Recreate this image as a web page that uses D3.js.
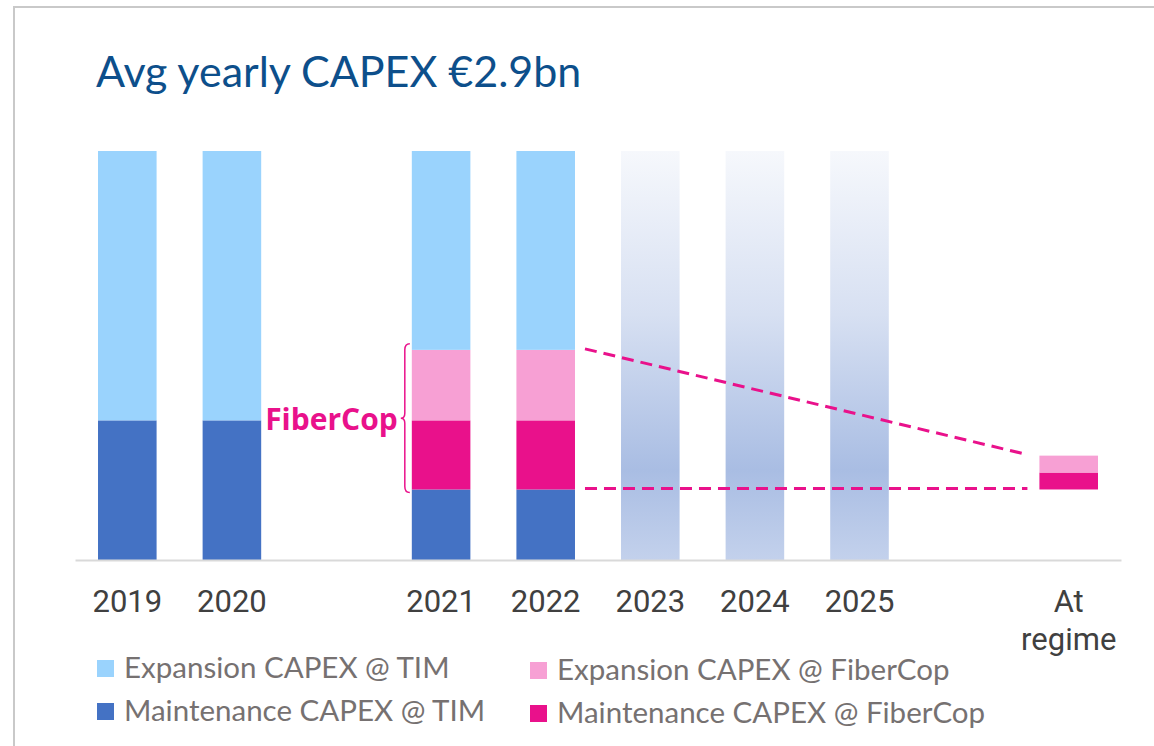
<!DOCTYPE html>
<html>
<head>
<meta charset="utf-8">
<script src="https://cdn.jsdelivr.net/npm/d3@7"></script>
<style>
  body { margin: 0; background: #fff; }
  svg { display: block; }
</style>
</head>
<body>
<div id="svgcontainer"></div>
<script>
// categories on the x axis (gap slots are empty positions)
let slots = ["2019", "2020", "gap1", "2021", "2022", "2023", "2024", "2025", "gap2", "At regime"];
let years = ["2019", "2020", "2021", "2022", "2023", "2024", "2025", "At regime"];
// € bn
let maintenanceTIM = [0.99, 0.99, 0.50, 0.50, 0, 0, 0, 0.50];
let maintenanceFiberCop = [0, 0, 0.49, 0.49, 0, 0, 0, 0.12];
let expansionFiberCop = [0, 0, 0.50, 0.50, 0, 0, 0, 0.12];
let expansionTIM = [1.91, 1.91, 1.41, 1.41, 0, 0, 0, 0];
let plannedTotal = [0, 0, 0, 0, 2.9, 2.9, 2.9, 0];
let seriesNames = ["Expansion CAPEX @ TIM", "Maintenance CAPEX @ TIM", "Expansion CAPEX @ FiberCop", "Maintenance CAPEX @ FiberCop"];
let titleText = "Avg yearly CAPEX €2.9bn";

let width = 1154;
let height = 746;
let colors = {
    expTIM: "#9ad3fd",
    mntTIM: "#4472c4",
    expFC: "#f7a0d4",
    mntFC: "#e9118b"
};

let rows = years.map((d, i) => ({
    year: d,
    mntTIM: maintenanceTIM[i],
    mntFC: maintenanceFiberCop[i],
    expFC: expansionFiberCop[i],
    expTIM: expansionTIM[i],
    planned: plannedTotal[i]
}));

let svg = d3.select("#svgcontainer")
    .append("svg")
    .attr("width", width)
    .attr("height", height);

let defs = svg.append("defs");
let grad = defs.append("linearGradient")
    .attr("id", "plannedGrad")
    .attr("x1", 0).attr("y1", 0).attr("x2", 0).attr("y2", 1);
grad.append("stop").attr("offset", "0%").attr("stop-color", "#f6f8fc");
grad.append("stop").attr("offset", "40%").attr("stop-color", "#d7e0f2");
grad.append("stop").attr("offset", "78%").attr("stop-color", "#a9bde3");
grad.append("stop").attr("offset", "100%").attr("stop-color", "#c3d1ec");

// frame
svg.append("path")
    .attr("d", "M14," + height + "V7H" + width)
    .attr("fill", "none")
    .attr("stroke", "#c9c9c9")
    .attr("stroke-width", 2);

svg.append("text")
    .attr("x", 96)
    .attr("y", 87)
    .style("font-family", "Lato, 'Open Sans', sans-serif")
    .style("font-size", "43px")
    .style("fill", "#0d4f8b")
    .text(titleText);

var x = d3.scaleBand()
    .domain(slots)
    .range([75, 1121])
    .paddingInner(0.44)
    .paddingOuter(0.22);

var y = d3.scaleLinear()
    .domain([0, 2.9])
    .range([560, 151]);

let keys = ["mntTIM", "mntFC", "expFC", "expTIM"];
let stacked = d3.stack().keys(keys)(rows);

let bars = svg.append("g").attr("class", "bars");
stacked.forEach(layer => {
    bars.selectAll(".bar-" + layer.key)
        .data(layer.filter(d => d[1] > d[0] && !(layer.key === "mntTIM" && d.data.year === "At regime")))
        .enter()
        .append("rect")
        .attr("x", d => x(d.data.year))
        .attr("width", x.bandwidth())
        .attr("y", d => y(d[1]))
        .attr("height", d => y(d[0]) - y(d[1]))
        .style("fill", colors[layer.key]);
});

bars.selectAll(".planned")
    .data(rows.filter(d => d.planned > 0))
    .enter()
    .append("rect")
    .attr("x", d => x(d.year))
    .attr("width", x.bandwidth())
    .attr("y", d => y(d.planned))
    .attr("height", d => y(0) - y(d.planned))
    .style("fill", "url(#plannedGrad)");

// x axis
let axis = svg.append("g")
    .attr("transform", "translate(0," + y(0) + ")")
    .call(d3.axisBottom(x).tickValues(years).tickSize(0).tickPadding(0));
axis.select(".domain").attr("stroke", "#d9d9d9").attr("stroke-width", 2);
axis.selectAll(".tick text").remove();
axis.selectAll(".tick").each(function (d) {
    let t = d3.select(this).append("text")
        .attr("text-anchor", "middle")
        .attr("fill", "#404040")
        .style("font-family", "Roboto, sans-serif")
        .style("font-size", "31px");
    let parts = d.split(" ");
    parts.forEach((p, i) => {
        t.append("tspan").attr("x", 0).attr("y", 52 + i * 38).text(p);
    });
});

// dashed guide lines from 2022 to At regime
let r22 = rows.find(d => d.year === "2022");
let rAR = rows.find(d => d.year === "At regime");
let xs = x("2022") + x.bandwidth() + 10;
let xe = x("At regime") - 12;
let guides = [
    [r22.mntTIM + r22.mntFC + r22.expFC, rAR.mntTIM + rAR.mntFC + rAR.expFC],
    [r22.mntTIM, rAR.mntTIM]
];
svg.selectAll(".guide")
    .data(guides)
    .enter()
    .append("line")
    .attr("x1", xs)
    .attr("x2", xe)
    .attr("y1", d => y(d[0]) - 1)
    .attr("y2", d => y(d[1]) - 1)
    .attr("stroke", colors.mntFC)
    .attr("stroke-width", 3)
    .attr("stroke-dasharray", "12,7");

// brace + FiberCop label on 2021
let r21 = rows.find(d => d.year === "2021");
let bTop = y(r21.mntTIM + r21.mntFC + r21.expFC) - 6;
let bBot = y(r21.mntTIM) + 3;
let bMid = (bTop + bBot) / 2;
let bx = x("2021") - 7;
svg.append("path")
    .attr("d", "M" + (bx + 5) + "," + bTop +
        "Q" + bx + "," + bTop + " " + bx + "," + (bTop + 6) +
        "V" + (bMid - 5) +
        "Q" + bx + "," + bMid + " " + (bx - 4) + "," + bMid +
        "Q" + bx + "," + bMid + " " + bx + "," + (bMid + 5) +
        "V" + (bBot - 6) +
        "Q" + bx + "," + bBot + " " + (bx + 5) + "," + bBot)
    .attr("fill", "none")
    .attr("stroke", colors.mntFC)
    .attr("stroke-width", 1.5);

svg.append("text")
    .attr("x", bx - 7)
    .attr("y", bMid + 12)
    .attr("text-anchor", "end")
    .style("font-family", "'Open Sans', sans-serif")
    .style("font-weight", 700)
    .style("font-size", "30px")
    .style("fill", colors.mntFC)
    .text("FiberCop");

// legend
let legendItems = [
    { name: seriesNames[0], color: colors.expTIM, lx: 97, ly: 660 },
    { name: seriesNames[1], color: colors.mntTIM, lx: 97, ly: 703 },
    { name: seriesNames[2], color: colors.expFC, lx: 530, ly: 662 },
    { name: seriesNames[3], color: colors.mntFC, lx: 530, ly: 705 }
];
let legend = svg.append("g").attr("class", "legend");
let li = legend.selectAll("g").data(legendItems).enter().append("g")
    .attr("transform", d => "translate(" + d.lx + "," + d.ly + ")");
li.append("rect").attr("width", 17).attr("height", 17).style("fill", d => d.color);
li.append("text")
    .attr("x", 27)
    .attr("y", 18)
    .style("font-family", "Lato, sans-serif")
    .style("font-size", "29.5px")
    .style("fill", "#767171")
    .text(d => d.name);
</script>
</body>
</html>
